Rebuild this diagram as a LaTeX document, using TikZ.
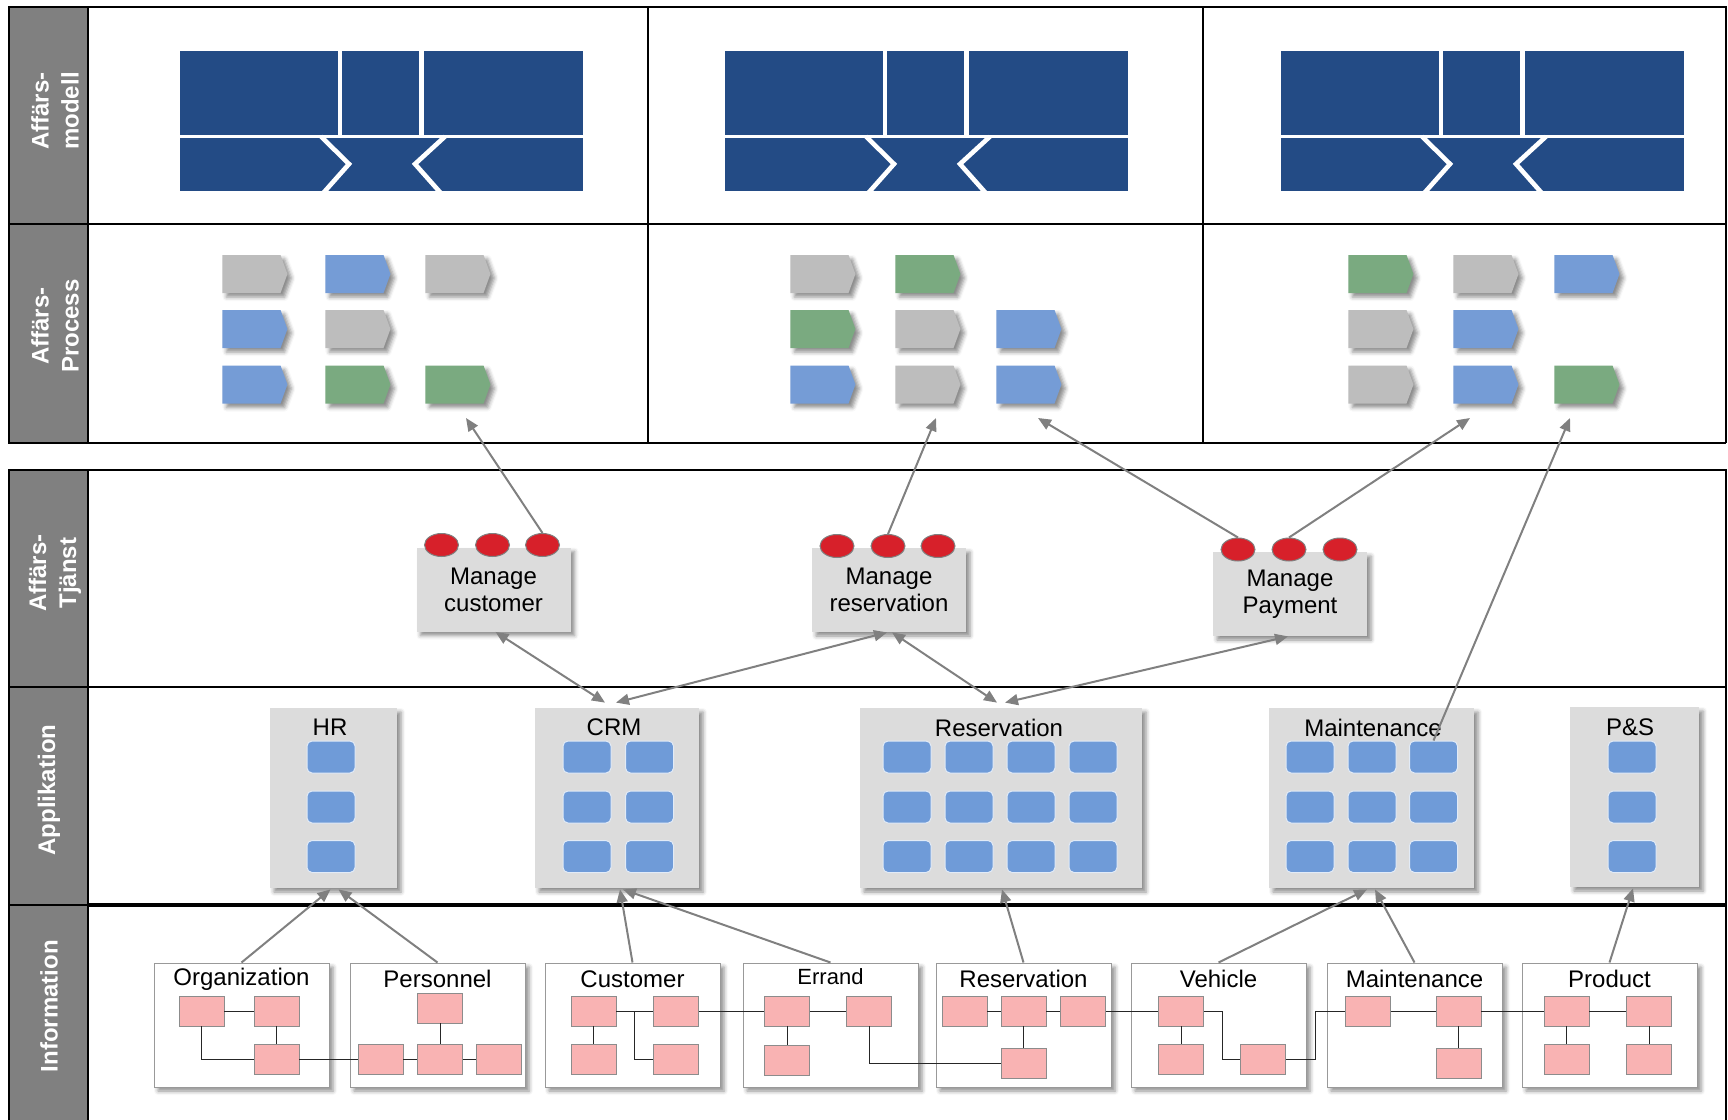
\documentclass[tikz,border=0pt]{standalone}
\usepackage{fontspec}
\setmainfont{Liberation Sans}
\usetikzlibrary{shapes.symbols,shapes.geometric,shadows.blur,arrows.meta,calc}
\definecolor{navy}{RGB}{35,75,133}
\definecolor{pgray}{RGB}{189,189,189}
\definecolor{pblue}{RGB}{117,156,214}
\definecolor{pgreen}{RGB}{122,170,128}
\definecolor{appgray}{RGB}{220,220,220}
\definecolor{appblue}{RGB}{111,155,216}
\definecolor{pinkbox}{RGB}{249,179,179}
\definecolor{svcred}{RGB}{215,32,42}
\definecolor{lblgray}{RGB}{128,128,128}
\definecolor{arrgray}{RGB}{128,128,128}
\tikzset{
  lbl/.style={fill=lblgray, draw=black, line width=1.2pt},
  lbltext/.style={text=white, font=\bfseries\fontsize{12}{15}\selectfont, rotate=90, align=center, inner sep=0pt},
  frame/.style={line width=1.2pt},
  mysh/.style={blur shadow={shadow xshift=2pt, shadow yshift=-2pt, shadow blur radius=2pt, shadow opacity=45}},
  proc/.style={shape=signal, signal to=east, signal pointer angle=140, minimum width=32.5pt, minimum height=19pt, inner sep=0pt, outer sep=0pt, mysh},
  pg/.style={proc, fill=pgray},
  pb/.style={proc, fill=pblue},
  pgr/.style={proc, fill=pgreen},
  svc/.style={fill=appgray, minimum width=77pt, minimum height=42pt, inner sep=0pt, align=center, font=\fontsize{12}{13.5}\selectfont, mysh},
  dot/.style={ellipse, fill=svcred, draw=gray, line width=0.5pt, minimum width=17pt, minimum height=11.5pt, inner sep=0pt},
  app/.style={fill=appgray, inner sep=0pt, mysh},
  asq/.style={fill=appblue, draw=white!80!appblue, line width=0.5pt, rounded corners=2.5pt, minimum width=24pt, minimum height=16pt, inner sep=0pt},
  info/.style={fill=white, draw=gray!80, line width=0.5pt, minimum width=87.5pt, minimum height=62pt, inner sep=0pt, mysh},
  isq/.style={fill=pinkbox, draw=gray!90, line width=0.4pt, minimum width=22.5pt, minimum height=15pt, inner sep=0pt},
  ttl/.style={font=\fontsize{12}{14}\selectfont, inner sep=0pt},
  link/.style={line width=0.5pt, draw=black!85},
  arr/.style={draw=arrgray, line width=1pt, -{Triangle[length=6.5pt,width=5.5pt]}},
  darr/.style={draw=arrgray, line width=1pt, {Triangle[length=6.5pt,width=5.5pt]}-{Triangle[length=6.5pt,width=5.5pt]}},
}
\newcommand\modelblock[1]{%
  \begin{scope}[shift={(#1,0)}]
    \begin{scope}
      \clip (0,51) rectangle (403,191);
      \fill[navy] (0,51) rectangle (403,191);
      \draw[white, line width=1.6pt] (-5,136.5) -- (410,136.5);
      \draw[white, line width=2pt] (160,45) -- (160,136.5);
      \draw[white, line width=2.2pt] (241.5,45) -- (241.5,136.5);
      \draw[white, line width=2.3pt, miter limit=10] (141,136.5) -- (169,164) -- (141.5,195);
      \draw[white, line width=2.3pt, miter limit=10] (265,136.5) -- (235,164) -- (262.5,195);
    \end{scope}
  \end{scope}}
\begin{document}
\begin{tikzpicture}[x=0.5pt,y=-0.5pt]
\useasboundingbox (0,0) rectangle (1728,1119);

% frames
\draw[frame] (88,7) -- (1726,7) -- (1726,443);
\draw[line width=0.6pt] (88,443) -- (1726,443);
\draw[frame] (88,224) -- (1726,224);
\draw[frame] (648,7) -- (648,443);
\draw[frame] (1203,7) -- (1203,443);
\draw[frame] (88,470) -- (1726,470) -- (1726,1130);
\draw[frame] (88,687) -- (1726,687);
\draw[line width=2pt] (88,905) -- (1726,905);

% business model blocks
\modelblock{180}
\modelblock{725}
\modelblock{1281}

% process shapes
\node[pg]  (s1r1c1) at (251.5,274) {};
\node[pb]  (s1r1c2) at (354.5,274) {};
\node[pg]  (s1r1c3) at (454.5,274) {};
\node[pb]  (s1r2c1) at (251.5,329) {};
\node[pg]  (s1r2c2) at (354.5,329) {};
\node[pb]  (s1r3c1) at (251.5,384.5) {};
\node[pgr] (s1r3c2) at (354.5,384.5) {};
\node[pgr] (s1r3c3) at (454.5,384.5) {};

\node[pg]  (s2r1c1) at (819.5,274) {};
\node[pgr] (s2r1c2) at (924.5,274) {};
\node[pgr] (s2r2c1) at (819.5,329) {};
\node[pg]  (s2r2c2) at (924.5,329) {};
\node[pb]  (s2r2c3) at (1025.5,329) {};
\node[pb]  (s2r3c1) at (819.5,384.5) {};
\node[pg]  (s2r3c2) at (924.5,384.5) {};
\node[pb]  (s2r3c3) at (1025.5,384.5) {};

\node[pgr] (s3r1c1) at (1377.5,274) {};
\node[pg]  (s3r1c2) at (1482.5,274) {};
\node[pb]  (s3r1c3) at (1583.5,274) {};
\node[pg]  (s3r2c1) at (1377.5,329) {};
\node[pb]  (s3r2c2) at (1482.5,329) {};
\node[pg]  (s3r3c1) at (1377.5,384.5) {};
\node[pb]  (s3r3c2) at (1482.5,384.5) {};
\node[pgr] (s3r3c3) at (1583.5,384.5) {};

% services
\node[svc] (mc) at (493.5,589.5) {Manage\\customer};
\node[dot] (mc1) at (441.5,545) {};
\node[dot] (mc2) at (492.5,545) {};
\node[dot] (mc3) at (542.5,545) {};
\node[svc] (mr) at (889,590) {Manage\\reservation};
\node[dot] (mr1) at (837,546) {};
\node[dot] (mr2) at (888,546) {};
\node[dot] (mr3) at (938,546) {};
\node[svc] (mp) at (1290,594) {Manage\\Payment};
\node[dot] (mp1) at (1238,549.5) {};
\node[dot] (mp2) at (1289,549.5) {};
\node[dot] (mp3) at (1340,549.5) {};

% applications
\node[app, minimum width=63.5pt, minimum height=90pt] (hr) at (333.5,798) {};
\node[ttl] (hr-t) at (330,727.5) {HR};
\node[app, minimum width=82pt, minimum height=90pt] (crm) at (617,798) {};
\node[ttl] (crm-t) at (614,727.5) {CRM};
\node[app, minimum width=141pt, minimum height=90pt] (resapp) at (1001,798) {};
\node[ttl] (resapp-t) at (999,727.5) {Reservation};
\node[app, minimum width=102.5pt, minimum height=90pt] (maint) at (1371.5,798) {};
\node[ttl] (maint-t) at (1373,727.5) {Maintenance};
\node[app, minimum width=64.5pt, minimum height=90pt] (ps) at (1634.5,797) {};
\node[ttl] (ps-t) at (1630,727.5) {P\&S};

\foreach \r/\y in {1/757,2/807,3/856.5}{
  \node[asq] (hr-\r) at (331,\y) {};
  \foreach \c/\x in {1/587,2/649.5}{\node[asq] (crm-\r-\c) at (\x,\y) {};}
  \foreach \c/\x in {1/907,2/969,3/1031,4/1093}{\node[asq] (ra-\r-\c) at (\x,\y) {};}
  \foreach \c/\x in {1/1310,2/1372,3/1433.5}{\node[asq] (ma-\r-\c) at (\x,\y) {};}
  \node[asq] (ps-\r) at (1632,\y) {};
}

% information boxes
\node[info] (org) at (241.5,1025) {};
\node[ttl] (org-t) at (241.5,979) {Organization};
\node[info] (pers) at (437.5,1025) {};
\node[ttl] (pers-t) at (437.5,979) {Personnel};
\node[info] (cust) at (632.5,1025) {};
\node[ttl] (cust-t) at (632.5,979) {Customer};
\node[info] (errand) at (830.5,1025) {};
\node[ttl, font=\fontsize{11}{13}\selectfont] (errand-t) at (830.5,976.5) {Errand};
\node[info] (resinfo) at (1023.5,1025) {};
\node[ttl] (resinfo-t) at (1023.5,979) {Reservation};
\node[info] (veh) at (1218.5,1025) {};
\node[ttl] (veh-t) at (1218.5,979) {Vehicle};
\node[info] (maintinfo) at (1414.5,1025) {};
\node[ttl] (maintinfo-t) at (1414.5,979) {Maintenance};
\node[info] (prod) at (1609.5,1025) {};
\node[ttl] (prod-t) at (1609.5,979) {Product};

% pink entity squares
\node[isq] (o1) at (201.5,1011) {};
\node[isq] (o2) at (276.5,1011) {};
\node[isq] (o3) at (276.5,1059) {};
\node[isq] (p1) at (440,1008) {};
\node[isq] (p2) at (380.5,1059) {};
\node[isq] (p3) at (440,1059) {};
\node[isq] (p4) at (498.5,1059) {};
\node[isq] (c1) at (593.5,1011) {};
\node[isq] (c2) at (676,1011) {};
\node[isq] (c3) at (593.5,1059) {};
\node[isq] (c4) at (676,1059) {};
\node[isq] (e1) at (787,1011) {};
\node[isq] (e2) at (869,1011) {};
\node[isq] (e3) at (787,1060) {};
\node[isq] (r1) at (964.5,1011) {};
\node[isq] (r2) at (1023.5,1011) {};
\node[isq] (r3) at (1083,1011) {};
\node[isq] (r4) at (1023.5,1063) {};
\node[isq] (v1) at (1181,1011) {};
\node[isq] (v2) at (1181,1059) {};
\node[isq] (v3) at (1263,1059) {};
\node[isq] (m1) at (1368,1011) {};
\node[isq] (m2) at (1458.5,1011) {};
\node[isq] (m3) at (1458.5,1063) {};
\node[isq] (d1) at (1566.5,1011) {};
\node[isq] (d2) at (1649,1011) {};
\node[isq] (d3) at (1566.5,1059) {};
\node[isq] (d4) at (1649,1059) {};

% entity links
\draw[link] (o1) -- (o2);
\draw[link] (o2) -- (o3);
\draw[link] (o1.south) |- (o3.west);
\draw[link] (o3) -- (p2);
\draw[link] (p2) -- (p3);
\draw[link] (p3) -- (p4);
\draw[link] (p1) -- (p3);
\draw[link] (c1) -- (c2);
\draw[link] (c2) -- (e1);
\draw[link] (c1) -- (c3);
\draw[link] ($(c1.east)!0.5!(c2.west)$) |- (c4.west);
\draw[link] (e1) -- (e2);
\draw[link] (e1) -- (e3);
\draw[link] (e2.south) |- (r4.west);
\draw[link] (r1) -- (r2);
\draw[link] (r2) -- (r3);
\draw[link] (r2) -- (r4);
\draw[link] (r3) -- (v1);
\draw[link] (v1) -- (v2);
\draw[link] (v1.east) -| ($(v1.east)!0.5!(v3.west)$) |- (v3.west);
\draw[link] (v3.east) -| ($(v3.east)!0.5!(m1.west)$) |- (m1.west);
\draw[link] (m1) -- (m2);
\draw[link] (m2) -- (m3);
\draw[link] (m2) -- (d1);
\draw[link] (d1) -- (d2);
\draw[link] (d1) -- (d3);
\draw[link] (d2) -- (d4);

% arrows to process
\coordinate (t1) at (466,418);
\coordinate (t2) at (936,418);
\coordinate (t3) at (1038,418);
\coordinate (t4) at (1470,418);
\coordinate (t5) at (1570,418);
\draw[arr] (mc3.north) -- (t1);
\draw[arr] (mr2.north) -- (t2);
\draw[arr] (mp1.north) -- (t3);
\draw[arr] (mp2.north) -- (t4);
\draw[arr] (ma-1-3.north) -- (t5);

% service <-> application
\draw[darr] ($(mc.south)+(2,0)$) -- ($(crm.north)+(-12,-5)$);
\draw[darr] ($(crm.north)+(-1,-5)$) -- ($(mr.south)+(-2,0)$);
\draw[darr] ($(mr.south)+(3,0)$) -- ($(resapp.north)+(-4,-5)$);
\draw[darr] ($(resapp.north)+(4,-5)$) -- ($(mp.south)+(-2,0)$);

% information -> application
\draw[arr] (org.north) -- ($(hr.south)+(-3,1)$);
\draw[arr] (pers.north) -- ($(hr.south)+(5,1)$);
\draw[arr] (cust.north) -- ($(crm.south)+(3,1)$);
\draw[arr] (errand.north) -- ($(crm.south)+(6,1)$);
\draw[arr] (resinfo.north) -- ($(resapp.south)+(1,1)$);
\draw[arr] (veh.north) -- ($(maint.south)+(-4.5,1)$);
\draw[arr] (maintinfo.north) -- ($(maint.south)+(3.5,1)$);
\draw[arr] (prod.north) -- ($(ps.south)+(-1.5,1)$);

% row labels
\draw[lbl] (9,7) rectangle (88,224);
\draw[lbl] (9,224) rectangle (88,443);
\draw[lbl] (9,470) rectangle (88,687);
\draw[lbl] (9,687) rectangle (88,905);
\draw[lbl] (9,905) rectangle (88,1130);
\node[lbltext] (lab1) at (55,111) {Affärs-\\modell};
\node[lbltext] (lab2) at (55,326) {Affärs-\\Process};
\node[lbltext] (lab3) at (55,573) {Affärs-\\Tjänst};
\node[lbltext] (lab4) at (49,790) {Applikation};
\node[lbltext] (lab5) at (49,1006) {Information};
\end{tikzpicture}
\end{document}
